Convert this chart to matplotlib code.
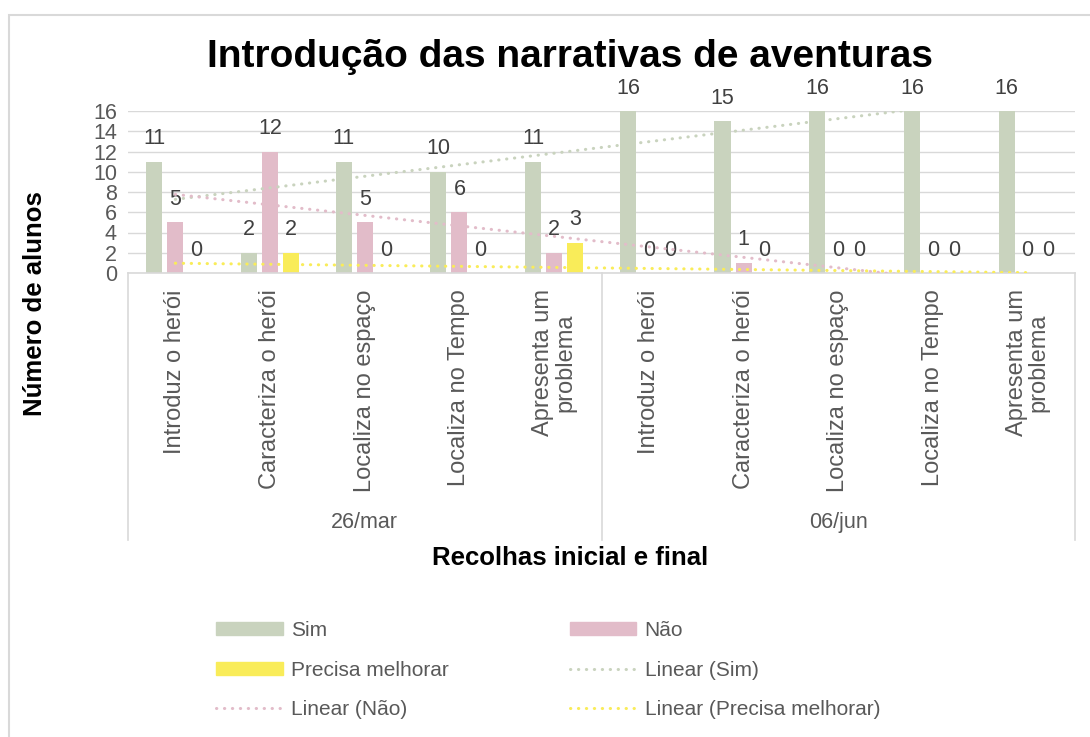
import numpy as np
import matplotlib
matplotlib.use('Agg')
import matplotlib.pyplot as plt
from matplotlib.patches import Rectangle, Patch
from matplotlib.lines import Line2D

plt.rcParams['font.family'] = ['Liberation Sans', 'DejaVu Sans']

# ##### DATA ######
categories = ['Introduz o herói', 'Caracteriza o herói', 'Localiza no espaço',
              'Localiza no Tempo', 'Apresenta um\nproblema'] * 2
groups = ['26/mar', '06/jun']
sim = [11, 2, 11, 10, 11, 16, 15, 16, 16, 16]
nao = [5, 12, 5, 6, 2, 0, 1, 0, 0, 0]
precisa = [0, 2, 0, 0, 3, 0, 0, 0, 0, 0]
series_names = ['Sim', 'Não', 'Precisa melhorar']
y_ticks = list(range(0, 17, 2))
##################

colors = ['#C9D3BE', '#E2BCC9', '#F9EC59']
grey_txt = '#595959'
grid_col = '#D9D9D9'

fig = plt.figure(figsize=(10.9, 7.37), dpi=100)
ax = fig.add_axes([128/1090, 1 - 273/737, (1075-128)/1090, (273-111)/737])

x = np.arange(len(categories))
offset = 0.222
bw = 0.17

# bars + data labels
for i, (vals, col) in enumerate(zip([sim, nao, precisa], colors)):
    xs = x + (i - 1) * offset
    ax.bar(xs, vals, width=bw, color=col, zorder=2)
    for xi, v in zip(xs, vals):
        ax.annotate(str(v), (xi, v), xytext=(0, 16.5), textcoords='offset points',
                    ha='center', va='center', fontsize=15.5, color='#404040',
                    annotation_clip=False)

# linear trendlines (Excel style, x = 1..n)
xn = np.arange(1, len(categories) + 1)
for vals, col in zip([sim, nao, precisa], colors):
    a, b = np.polyfit(xn, vals, 1)
    ax.plot(x, a * xn + b, color=col, lw=2.2, linestyle=(0, (0.1, 2.5)),
            dash_capstyle='round', zorder=3)

ax.set_xlim(-0.5, len(categories) - 0.5)
ax.set_ylim(0, 16)
ax.set_yticks(y_ticks)
ax.tick_params(axis='y', length=0, labelsize=15.5, labelcolor=grey_txt, pad=8)
ax.set_xticks([])
ax.grid(axis='y', color=grid_col, lw=1, zorder=0)
ax.set_axisbelow(True)
for s in ['top', 'right', 'left']:
    ax.spines[s].set_visible(False)
ax.spines['bottom'].set_color(grid_col)
ax.spines['bottom'].set_linewidth(1.2)

# multi-level category axis
tr = ax.get_xaxis_transform()
for xv in [-0.5, 4.5, 9.5]:
    ax.plot([xv, xv], [0, -1.65], color=grid_col, lw=1.2, transform=tr, clip_on=False)
for xi, lab in zip(x, categories):
    ax.text(xi, -0.1, lab, transform=tr, rotation=90, ha='center', va='top',
            multialignment='center', fontsize=17, color=grey_txt, linespacing=1.0)
for gi, g in enumerate(groups):
    ax.text(2 + 5 * gi, -1.54, g, transform=tr, ha='center', va='center',
            fontsize=15.5, color=grey_txt)

# titles
fig.text(570/1090, 1 - 57/737, 'Introdução das narrativas de aventuras',
         ha='center', va='center', fontsize=28, fontweight='bold')
fig.text(570/1090, 1 - 558/737, 'Recolhas inicial e final',
         ha='center', va='center', fontsize=18.5, fontweight='bold')
fig.text(35/1090, 1 - 304/737, 'Número de alunos', rotation=90,
         ha='center', va='center', fontsize=18.5, fontweight='bold')

# legend
handles = [
    Patch(color=colors[0]), Patch(color=colors[1]),
    Patch(color=colors[2]),
    Line2D([], [], color=colors[0], lw=2.2, linestyle=(0, (0.1, 2.5)), dash_capstyle='round'),
    Line2D([], [], color=colors[1], lw=2.2, linestyle=(0, (0.1, 2.5)), dash_capstyle='round'),
    Line2D([], [], color=colors[2], lw=2.2, linestyle=(0, (0.1, 2.5)), dash_capstyle='round'),
]
labels = ['Sim', 'Não', 'Precisa melhorar', 'Linear (Sim)', 'Linear (Não)',
          'Linear (Precisa melhorar)']
# reorder so that ncol=2 fills row-wise
order = [0, 2, 4, 1, 3, 5]
leg = fig.legend([handles[i] for i in order], [labels[i] for i in order],
                 ncol=2, loc='center', bbox_to_anchor=(548/1090, 1 - 670/737),
                 frameon=False, fontsize=15, handlelength=3.2, handleheight=0.6,
                 columnspacing=5.8, labelspacing=1.0, handletextpad=0.4)
for t in leg.get_texts():
    t.set_color(grey_txt)

# chart frame
fig.patches.append(Rectangle((9/1090, -0.1), 1.2, 1.1 - 15/737, transform=fig.transFigure,
                             fill=False, edgecolor=grid_col, lw=1.5))

plt.savefig('out.png', dpi=100)
plt.close()
